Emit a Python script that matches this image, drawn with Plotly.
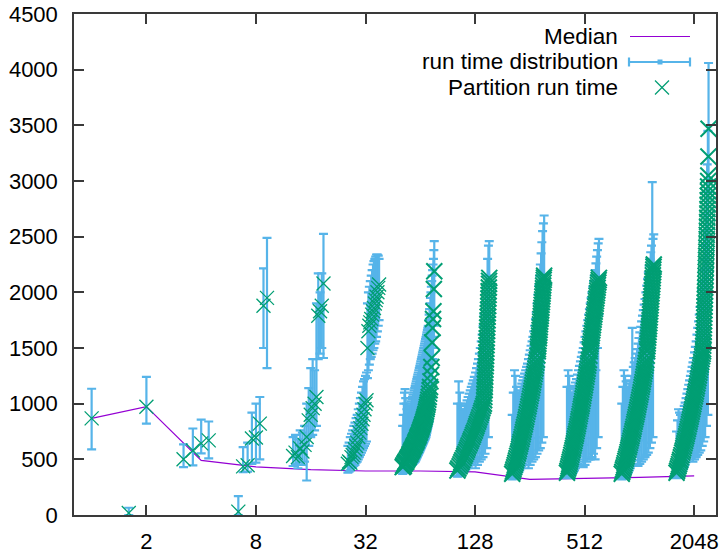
import math
import plotly.graph_objects as go

# ---------------- data ----------------
x_range = [0.8, 2700]
x_ticks = [2, 8, 32, 128, 512, 2048]
y_ticks = [0, 500, 1000, 1500, 2000, 2500, 3000, 3500, 4000, 4500]

median_x = [1, 2, 4, 8, 16, 32, 64, 128, 256, 512, 1024, 2048]
median_y = [868, 973, 490, 432, 408, 395, 395, 388, 320, 328, 338, 352]

# Partition run times, rank ordered.  Small counts: every partition.
run_1 = [868]
run_2 = [18, 973]
run_4 = [500, 580, 643, 670]
run_8 = [30, 437, 447, 687, 696, 821, 1880, 1950]
run_16 = [530, 560, 520, 600, 570, 630, 700, 850, 900, 960, 1000, 1060, 1790, 1830, 1880, 2080]
run_32 = [460, 480, 470, 520, 540, 560, 590, 620, 650, 700, 740, 780, 820, 860, 900, 950,
          1000, 1030, 1500, 1650, 1700, 1730, 1760, 1800, 1830, 1860, 1900, 1930, 1960, 2000, 2040, 2070]
run_64 = [430, 445, 440, 460, 470, 480, 478, 495, 505, 515, 520, 535, 545, 550, 565, 575, 585, 590, 605, 615,
          625, 630, 645, 655, 665, 675, 690, 700, 710, 720, 735, 745, 760, 770, 785, 795, 810, 820, 835, 850,
          865, 880, 895, 910, 930, 950, 970, 990, 1010, 1035, 1060, 1090, 1120, 1150, 1200, 1260, 1330, 1410,
          1550, 1680, 1760, 1830, 2030, 2190]

# Large counts: sampled partitions, bulk (lower ranks) and tail (upper ranks)
run_128_bulk = [400, 418, 437, 455, 474, 492, 511, 530, 548, 567, 586, 605, 624, 643, 662, 681, 700, 720, 739,
                758, 778, 797, 817, 837, 857, 877, 897, 917, 937, 958, 979, 1000]
run_128_tail = [1030, 1060, 1090, 1120, 1150, 1180, 1211, 1242, 1273, 1304, 1335, 1366, 1397, 1428, 1460, 1492,
                1524, 1556, 1588, 1620, 1652, 1684, 1716, 1748, 1780, 1812, 1845, 1878, 1911, 1944, 1977, 2010,
                2043, 2076, 2103, 2130]
run_256_bulk = [370, 389, 409, 429, 449, 469, 490, 510, 531, 552, 573, 594, 615, 637, 658, 680, 702, 724, 746,
                768, 790, 813, 836, 858, 881, 904, 927, 951, 974, 998, 1021, 1045, 1069, 1093, 1117, 1141, 1166,
                1190, 1215, 1240, 1265, 1290, 1316, 1342, 1368, 1394, 1432, 1470]
run_256_tail = [1490, 1514, 1538, 1562, 1587, 1612, 1637, 1662, 1687, 1712, 1737, 1762, 1787, 1812, 1837, 1862,
                1887, 1912, 1937, 1962, 1987, 2012, 2037, 2062, 2087, 2112, 2132, 2150]
run_512_bulk = [380, 398, 418, 438, 458, 478, 499, 519, 540, 560, 581, 602, 623, 644, 666, 687, 709, 730, 752,
                774, 796, 818, 841, 863, 886, 908, 931, 954, 977, 1000, 1023, 1047, 1070, 1094, 1118, 1142, 1166,
                1190, 1214, 1239, 1264, 1289, 1314, 1340, 1366, 1392, 1430, 1470]
run_512_tail = [1490, 1513, 1537, 1561, 1585, 1609, 1633, 1657, 1681, 1705, 1729, 1753, 1777, 1801, 1825, 1849,
                1873, 1897, 1921, 1945, 1969, 1993, 2017, 2041, 2065, 2088, 2110, 2130]
run_1024_bulk = [370, 388, 408, 427, 447, 466, 486, 506, 526, 546, 566, 586, 607, 627, 648, 668, 689, 710, 731,
                 752, 773, 794, 816, 837, 859, 880, 902, 924, 946, 968, 990, 1012, 1035, 1057, 1080, 1103, 1126,
                 1149, 1172, 1195, 1219, 1243, 1267, 1291, 1315, 1340, 1365, 1392, 1430, 1470]
run_1024_tail = [1490, 1515, 1540, 1566, 1592, 1618, 1644, 1670, 1696, 1722, 1748, 1775, 1802, 1829, 1856, 1883,
                 1910, 1937, 1964, 1991, 2018, 2045, 2072, 2099, 2126, 2153, 2180, 2205, 2230, 2250]
run_2048_bulk = [380, 398, 417, 438, 457, 478, 497, 518, 538, 560, 580, 601, 622, 643, 664, 686, 707, 729, 750,
                 772, 794, 816, 838, 860, 882, 905, 927, 950, 972, 995, 1018, 1041, 1064, 1087, 1110, 1134, 1157,
                 1181, 1205, 1229, 1253, 1277, 1301, 1326, 1350, 1375, 1400, 1425, 1447, 1470]
run_2048_tail = [1490, 1520, 1550, 1580, 1612, 1644, 1676, 1708, 1740, 1773, 1806, 1839, 1872, 1906, 1940, 1974,
                 2008, 2043, 2078, 2113, 2148, 2184, 2220, 2256, 2292, 2329, 2366, 2403, 2440, 2478, 2516, 2554,
                 2592, 2631, 2670, 2709, 2748, 2788, 2828, 2868, 2908, 2950, 3000, 3050, 3220, 3470]

# (partition count, first partition index, last partition index, run times)
run_segments = [
    (1, 0, 0, run_1), (2, 0, 1, run_2), (4, 0, 3, run_4), (8, 0, 7, run_8),
    (16, 0, 15, run_16), (32, 0, 31, run_32), (64, 0, 63, run_64),
    (128, 0, 102, run_128_bulk), (128, 103, 127, run_128_tail),
    (256, 0, 196, run_256_bulk), (256, 197, 255, run_256_tail),
    (512, 0, 342, run_512_bulk), (512, 343, 511, run_512_tail),
    (1024, 0, 778, run_1024_bulk), (1024, 779, 1023, run_1024_tail),
    (2048, 0, 1637, run_2048_bulk), (2048, 1638, 2047, run_2048_tail),
]

# Run time distribution (min / max) for the partitions
lo_1 = [589]
hi_1 = [1134]
lo_2 = [0, 820]
hi_2 = [65, 1240]
lo_4 = [430, 446, 553, 509]
hi_4 = [634, 777, 857, 840]
lo_8 = [0, 384, 390, 460, 470, 500, 1500, 1320]
hi_8 = [170, 610, 650, 920, 1000, 1060, 2215, 2490]
lo_16 = [440, 460, 420, 470, 450, 480, 310, 620, 700, 720, 760, 800, 1400, 1450, 1500, 1410]
hi_16 = [700, 720, 680, 760, 740, 800, 1000, 1140, 1320, 1400, 1300, 1900, 2170, 2000, 2170, 2525]
lo_32 = [380, 390, 400, 420, 430, 440, 450, 470, 480, 500, 520, 540, 560, 580, 600, 620,
         640, 660, 1230, 1300, 1350, 1400, 1420, 1450, 1480, 1500, 1540, 1560, 1600, 1650, 1700, 1750]
hi_32 = [620, 650, 700, 730, 760, 800, 830, 870, 900, 950, 1000, 1050, 1100, 1150, 1200, 1220,
         1250, 1280, 1900, 2000, 2050, 2100, 2150, 2200, 2250, 2280, 2300, 2320, 2340, 2340, 2330, 2300]
lo_64 = [370, 375, 380, 385, 390, 395, 400, 405, 410, 415, 420, 425, 430, 435, 440, 445, 450, 455, 460, 465,
         470, 475, 480, 490, 500, 510, 520, 530, 540, 550, 560, 570, 580, 590, 600, 610, 620, 630, 640, 650,
         660, 670, 680, 690, 700, 720, 740, 760, 780, 800, 820, 840, 860, 900, 950, 1000, 1050, 1100,
         1200, 1300, 1400, 1500, 1600, 1700]
hi_64 = [800, 900, 1000, 1100, 1130, 1050, 1000, 950, 900, 900, 920, 940, 960, 980, 1000, 1020, 1040, 1060, 1080,
         1100, 1120, 1140, 1160, 1180, 1200, 1220, 1240, 1260, 1280, 1300, 1320, 1340, 1360, 1380, 1400, 1420, 1440,
         1460, 1480, 1500, 1520, 1540, 1560, 1580, 1600, 1620, 1640, 1660, 1680, 1700, 1750, 1800, 1850, 1900, 1950,
         2000, 2050, 2100, 2150, 2200, 2250, 2300, 2380, 2460]
lo_128 = [345, 350, 360, 370, 380, 390, 400, 410, 420, 430, 445, 460, 475, 490, 505, 520, 420, 560, 450, 600,
          480, 650, 500, 710, 520, 780, 550, 950, 600, 1350, 700, 1750]
hi_128 = [1000, 1200, 1100, 1000, 950, 950, 980, 1000, 1030, 1060, 1090, 1120, 1150, 1180, 1210, 1240, 1280,
          1320, 1360, 1400, 1450, 1500, 1560, 1620, 1700, 1800, 1900, 2000, 2150, 2300, 2420, 2460]
lo_256 = [320, 330, 340, 350, 360, 370, 385, 400, 420, 440, 460, 480, 500, 520, 545, 570, 420, 630, 450, 690,
          480, 760, 500, 850, 520, 950, 550, 1050, 580, 1200, 600, 1450, 650, 1700, 700, 1850]
hi_256 = [900, 1100, 1300, 1250, 1150, 1100, 1100, 1120, 1150, 1180, 1210, 1240, 1270, 1300, 1330, 1360, 1400,
          1440, 1480, 1520, 1560, 1600, 1650, 1700, 1760, 1820, 1900, 1980, 2060, 2150, 2250, 2350, 2450, 2550,
          2620, 2690]
lo_512 = [330, 335, 340, 350, 360, 370, 385, 400, 420, 440, 460, 480, 500, 525, 550, 575, 430, 630, 450, 690,
          480, 750, 500, 820, 500, 900, 520, 1000, 550, 1100, 500, 1300, 600, 1500, 700, 1800]
hi_512 = [1150, 1300, 1250, 1150, 1100, 1100, 1130, 1160, 1190, 1220, 1260, 1300, 1340, 1380, 1420, 1460, 1500,
          1550, 1600, 1650, 1700, 1750, 1800, 1850, 1900, 1950, 2000, 2050, 2100, 2150, 2200, 2260, 2320, 2380,
          2440, 2480]
lo_1024 = [320, 330, 335, 345, 355, 365, 380, 400, 420, 440, 460, 490, 520, 550, 580, 610, 440, 670, 460, 730,
           480, 810, 500, 890, 520, 970, 540, 1080, 560, 1250, 600, 1450, 650, 1700, 700, 1950]
hi_1024 = [1000, 1150, 1300, 1250, 1200, 1150, 1150, 1180, 1210, 1250, 1680, 1330, 1370, 1410, 1450, 1490, 1540,
           1590, 1640, 1690, 1740, 1790, 1840, 1890, 1940, 2000, 2060, 2120, 2180, 2240, 2300, 2360, 2420, 2990,
           2480, 2520]
lo_2048 = [330, 335, 340, 350, 360, 375, 390, 410, 430, 450, 475, 500, 525, 550, 580, 610, 640, 670, 480, 730,
           500, 800, 520, 880, 540, 960, 560, 1050, 580, 1160, 620, 1300, 660, 1480, 700, 1750, 800, 2200, 900, 2900]
hi_2048 = [750, 850, 950, 920, 900, 900, 920, 950, 980, 1010, 1050, 1090, 1130, 1170, 1210, 1250, 1290, 1330,
           1370, 1410, 1460, 1510, 1560, 1620, 1680, 1740, 1800, 1870, 1940, 2020, 2100, 2200, 2300, 2420, 2550,
           2700, 2900, 3150, 3450, 4060]

group_n = [1, 2, 4, 8, 16, 32, 64, 128, 256, 512, 1024, 2048]
lows = [lo_1, lo_2, lo_4, lo_8, lo_16, lo_32, lo_64, lo_128, lo_256, lo_512, lo_1024, lo_2048]
highs = [hi_1, hi_2, hi_4, hi_8, hi_16, hi_32, hi_64, hi_128, hi_256, hi_512, hi_1024, hi_2048]


def part_x(n, p):
    """x position of partition p when the run uses n partitions."""
    return n + (p - n // 2) * 0.4


def sample_index(p0, p1, k, m):
    return round(p0 + k * (p1 - p0) / (m - 1)) if m > 1 else p0


sx, sy, dx, dy = [], [], [], []
for n, p0, p1, vals in run_segments:
    for k, v in enumerate(vals):
        xv = part_x(n, sample_index(p0, p1, k, len(vals)))
        if n < 64:
            sx.append(xv)
            sy.append(v)
        else:
            dx.append(xv)
            dy.append(v)

bx, by, bh = [], [], []
for n, lo, hi in zip(group_n, lows, highs):
    for k in range(len(lo)):
        bx.append(part_x(n, sample_index(0, n - 1, k, len(lo))))
        by.append(lo[k])
        bh.append(hi[k] - lo[k])

PURPLE = "#9400D3"
BLUE = "#56B4E9"
GREEN = "#009E73"
FRAME = "#3a3a3a"
FONT = "Liberation Sans, Arial, sans-serif"

fig = go.Figure()
fig.add_trace(go.Scatter(x=median_x, y=median_y, mode="lines",
                         line=dict(color=PURPLE, width=1.2), name="Median"))
fig.add_trace(go.Scatter(x=bx, y=by, mode="markers", name="run time distribution",
                         marker=dict(size=0.1, color=BLUE, opacity=0),
                         error_y=dict(type="data", symmetric=False, array=bh,
                                      arrayminus=[0] * len(bh),
                                      color=BLUE, thickness=2.2, width=4.5)))
fig.add_trace(go.Scatter(x=sx, y=sy, mode="markers", name="Partition run time",
                         marker=dict(symbol="x-thin", size=14, color=GREEN,
                                     line=dict(color=GREEN, width=1.3))))
fig.add_trace(go.Scatter(x=dx, y=dy, mode="markers", name="Partition run time",
                         marker=dict(symbol="x-thin", size=16, color=GREEN,
                                     line=dict(color=GREEN, width=2.0))))

L, R, T, B = 74, 716, 13.5, 514.6
W, H = 723, 553


def px(x):
    return (x - L) / (R - L)


def py(y):
    return (B - y) / (B - T)


shapes = []
annotations = []
legend_rows = [("Median", 36.5), ("run time distribution", 61.5), ("Partition run time", 87)]
for text, yy in legend_rows:
    annotations.append(dict(x=px(620), y=py(yy), xref="paper", yref="paper", text=text,
                            showarrow=False, xanchor="right", yanchor="middle",
                            font=dict(family=FONT, size=22.5, color="black")))
shapes.append(dict(type="line", xref="paper", yref="paper", x0=px(630), x1=px(690), y0=py(36), y1=py(36),
                   line=dict(color=PURPLE, width=1.2)))
shapes.append(dict(type="line", xref="paper", yref="paper", x0=px(629), x1=px(690), y0=py(61.5), y1=py(61.5),
                   line=dict(color=BLUE, width=2.2)))
for cx in (629, 690):
    shapes.append(dict(type="line", xref="paper", yref="paper", x0=px(cx), x1=px(cx), y0=py(57), y1=py(66),
                       line=dict(color=BLUE, width=2.2)))
shapes.append(dict(type="rect", xref="paper", yref="paper", x0=px(657.5), x1=px(662.5), y0=py(59), y1=py(64),
                   line=dict(width=0), fillcolor=BLUE))
shapes.append(dict(type="line", xref="paper", yref="paper", x0=px(655), x1=px(669), y0=py(80), y1=py(94),
                   line=dict(color=GREEN, width=1.3)))
shapes.append(dict(type="line", xref="paper", yref="paper", x0=px(655), x1=px(669), y0=py(94), y1=py(80),
                   line=dict(color=GREEN, width=1.3)))

axis_common = dict(showgrid=False, zeroline=False, showline=True, linecolor=FRAME, linewidth=1.5,
                   ticks="inside", ticklen=10, tickwidth=1.5, tickcolor=FRAME, mirror="allticks",
                   automargin=False, tickfont=dict(family=FONT, size=22, color="black"))

fig.update_layout(
    width=W, height=H,
    margin=dict(l=L, r=W - R, t=T, b=H - B),
    paper_bgcolor="white", plot_bgcolor="white",
    showlegend=False,
    xaxis=dict(type="log", range=[math.log10(x_range[0]), math.log10(x_range[1])],
               tickvals=x_ticks, ticktext=[str(t) for t in x_ticks], ticklabelstandoff=6, **axis_common),
    yaxis=dict(range=[0, 4500], tickvals=y_ticks, ticktext=[str(t) for t in y_ticks],
               ticklabelstandoff=10, **axis_common),
    shapes=shapes, annotations=annotations,
)

fig.write_html("out.html")
